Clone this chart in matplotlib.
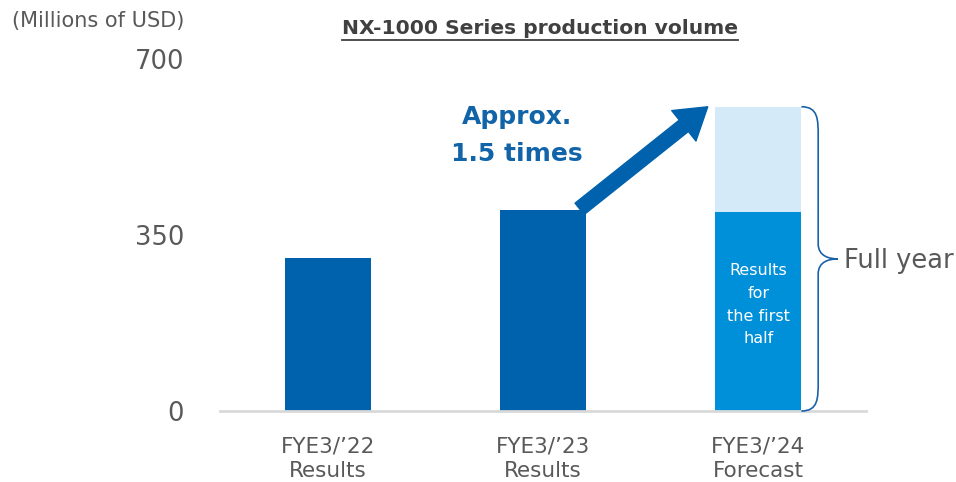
import matplotlib
matplotlib.use("Agg")
import matplotlib.pyplot as plt
from matplotlib.patches import FancyArrowPatch, PathPatch
from matplotlib.path import Path
from matplotlib.lines import Line2D

# ---- data ----
categories = ["FYE3/\u201922\nResults", "FYE3/\u201923\nResults", "FYE3/\u201924\nForecast"]
results = [305, 400, 395]          # dark bars (first-half results for FYE3/'24)
forecast_total = 605               # full-year forecast FYE3/'24
yticks = [0, 350, 700]
title = "NX-1000 Series production volume"
unit_label = "(Millions of USD)"
growth_label = "Approx.\n1.5 times"
inner_label = "Results\nfor\nthe first\nhalf"
brace_label = "Full year"

DARK = "#0062AC"
MID = "#0090DA"
LIGHT = "#D4EAF8"
GRAY = "#595959"

fig = plt.figure(figsize=(9.56, 4.82), dpi=100)
ax = fig.add_axes([220/956, 71/482, 646/956, 352/482])

x = list(range(len(categories)))
w = 0.4
ax.bar(x[:2], results[:2], width=w, color=DARK, zorder=2)
ax.bar(x[2], results[2], width=w, color=MID, zorder=2)
ax.bar(x[2], forecast_total - results[2], bottom=results[2], width=w, color=LIGHT, zorder=2)

ax.set_xlim(-0.5, 2.5)
ax.set_ylim(0, 700)
ax.set_yticks(yticks)
ax.set_yticklabels([str(v) for v in yticks], fontsize=18.5, color=GRAY)
ax.set_xticks(x)
ax.set_xticklabels(categories, fontsize=15.5, color=GRAY, linespacing=1.3)
ax.tick_params(axis="y", length=0, pad=26)
ax.tick_params(axis="x", length=0, pad=18)
for s in ["top", "right", "left"]:
    ax.spines[s].set_visible(False)
ax.spines["bottom"].set_color("#D9D9D9")
ax.spines["bottom"].set_linewidth(2)

# inner text
ax.text(x[2], results[2] * 0.535, inner_label, ha="center", va="center",
        color="white", fontsize=11.5, linespacing=1.65, zorder=3)

# arrow
arr = FancyArrowPatch((x[1] + 0.17, results[1] + 2), (x[2] - 0.235, forecast_total),
                      arrowstyle="simple,head_length=22,head_width=28,tail_width=10.5",
                      mutation_scale=1, color=DARK, shrinkA=0, shrinkB=0, zorder=4)
ax.add_patch(arr)
ax.text(0.88, 548, growth_label, ha="center", va="center", color="#1264A8",
        fontsize=18, fontweight="bold", linespacing=1.7)

# curly brace
x0 = x[2] + w / 2
xm = x0 + 0.078
xt = x0 + 0.17
top = forecast_total
bot = 0
mid = (top + bot) / 2
verts = [
    (x0, top), (xm, top), (xm, top - 25), (xm, top - 60),
    (xm, mid + 30),
    (xm, mid + 5), (xt - 0.04, mid), (xt, mid),
    (xt - 0.04, mid), (xm, mid - 5), (xm, mid - 30),
    (xm, bot + 60),
    (xm, bot + 25), (xm, bot), (x0, bot),
]
codes = [Path.MOVETO, Path.CURVE4, Path.CURVE4, Path.CURVE4,
         Path.LINETO,
         Path.CURVE4, Path.CURVE4, Path.CURVE4,
         Path.CURVE4, Path.CURVE4, Path.CURVE4,
         Path.LINETO,
         Path.CURVE4, Path.CURVE4, Path.CURVE4]
ax.add_patch(PathPatch(Path(verts, codes), fill=False, edgecolor="#1A62A8",
                       linewidth=1.2, clip_on=False, zorder=3))
ax.text(xt + 0.03, mid - 5, brace_label, ha="left", va="center", color=GRAY,
        fontsize=18.5, clip_on=False)

# labels
fig.text(12/956, 1 - 21/482, unit_label, ha="left", va="center", fontsize=15, color=GRAY)
t = fig.text(540/956, 1 - 29/482, title, ha="center", va="center",
             fontsize=14.6, fontweight="bold", color="#404040")
fig.canvas.draw()
bb = t.get_window_extent(renderer=fig.canvas.get_renderer())
uy = (bb.y0 - 1) / fig.bbox.height
fig.add_artist(Line2D([bb.x0 / fig.bbox.width, bb.x1 / fig.bbox.width], [uy, uy],
                      transform=fig.transFigure, color="#404040", linewidth=1.3))

fig.savefig("out.png", dpi=100)
